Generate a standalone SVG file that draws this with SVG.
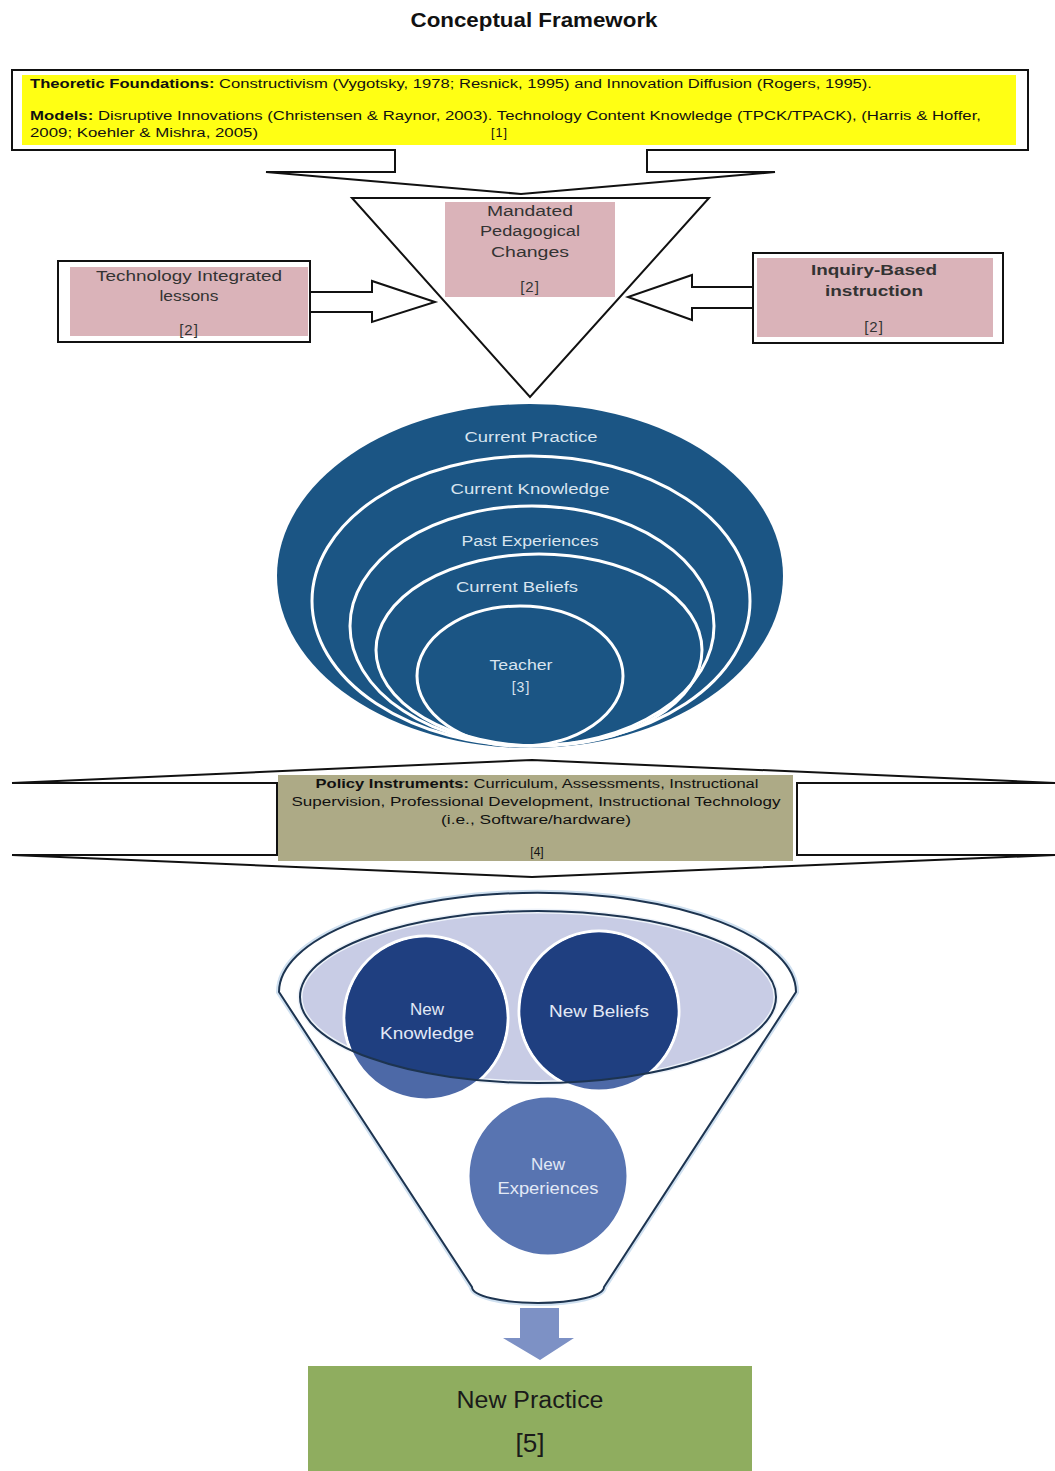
<svg xmlns="http://www.w3.org/2000/svg" width="1055" height="1471" viewBox="0 0 1055 1471">
<defs>
<style>
text{font-family:"Liberation Sans","Open Sans",Arial,sans-serif}
.ln{fill:none;stroke:#111;stroke-width:2;stroke-linejoin:miter}
.pink{fill:#dab3b9}
.ptxt{font-size:14px;fill:#333;text-anchor:middle}
.num{font-size:15px;letter-spacing:1px}
.ring{fill:none;stroke:#fff;stroke-width:3}
.rtxt{font-size:14px;fill:#d8e4ef;text-anchor:middle}
.ctxt{font-size:17px;fill:#e2e9f6;text-anchor:middle}
.ytxt{font-size:12.5px;fill:#111}
.otxt{font-size:12px;fill:#111;text-anchor:middle}
</style>
<clipPath id="outerClip"><ellipse cx="530" cy="576" rx="253" ry="172"/></clipPath>
<clipPath id="innerEll"><ellipse cx="538" cy="997" rx="238" ry="86"/></clipPath>
</defs>
<rect width="1055" height="1471" fill="#fff"/>

<text x="534" y="27" font-size="20" font-weight="bold" text-anchor="middle" fill="#111" textLength="247" lengthAdjust="spacingAndGlyphs">Conceptual Framework</text>

<g id="connectors">
<path class="ln" d="M395,150 V172 H266 L521,194 L775,172 H647 V150"/>
<path class="ln" fill="#fff" d="M310,292 H372 V281 L435,302 L372,322 V312 H310"/>
<path class="ln" d="M753,287 H692 V275 L628,297 L692,320 V308 H753"/>
<path class="ln" stroke-width="2.2" d="M12,783 L532,760 L1055,783"/>
<path class="ln" stroke-width="2.2" d="M12,855 L532,877 L1055,855"/>
<path class="ln" d="M12,783 H277 V855 H12"/>
<path class="ln" d="M1055,783 H797 V855 H1055"/>
<path fill="#7d91c5" d="M520,1308 H559 V1338 H574 L540,1360 L503,1338 H520 Z"/>
</g>

<g id="foundations">
<rect x="12" y="70" width="1016" height="80" fill="#fff" stroke="#111" stroke-width="2"/>
<rect x="22" y="75" width="994" height="70" fill="#ffff14"/>
<line x1="396" y1="150" x2="646" y2="150" stroke="#fff" stroke-width="3"/>
<text class="ytxt" x="30" y="88" textLength="842" lengthAdjust="spacingAndGlyphs"><tspan font-weight="bold">Theoretic Foundations:</tspan> Constructivism (Vygotsky, 1978; Resnick, 1995) and Innovation Diffusion (Rogers, 1995).</text>
<text class="ytxt" x="30" y="120" textLength="951" lengthAdjust="spacingAndGlyphs"><tspan font-weight="bold">Models:</tspan> Disruptive Innovations (Christensen &amp; Raynor, 2003). Technology Content Knowledge (TPCK/TPACK), (Harris &amp; Hoffer,</text>
<text class="ytxt" x="30" y="137" textLength="228" lengthAdjust="spacingAndGlyphs">2009; Koehler &amp; Mishra, 2005)</text>
<text class="ytxt" x="491" y="137" letter-spacing="1">[1]</text>
</g>

<g id="mandated">
<path class="ln" fill="#fff" d="M352,198 H709 L530,397 Z"/>
<rect class="pink" x="445" y="202" width="170" height="95"/>
<text class="ptxt" x="530" y="216" textLength="86" lengthAdjust="spacingAndGlyphs">Mandated</text>
<text class="ptxt" x="530" y="236" textLength="100" lengthAdjust="spacingAndGlyphs">Pedagogical</text>
<text class="ptxt" x="530" y="257" textLength="78" lengthAdjust="spacingAndGlyphs">Changes</text>
<text class="ptxt num" x="530" y="292">[2]</text>
</g>

<g id="tech-lessons">
<rect x="58" y="261" width="252" height="81" fill="#fff" stroke="#111" stroke-width="2"/>
<rect class="pink" x="70" y="267" width="238" height="69"/>
<text class="ptxt" x="189" y="281" textLength="186" lengthAdjust="spacingAndGlyphs">Technology Integrated</text>
<text class="ptxt" x="189" y="301" textLength="59" lengthAdjust="spacingAndGlyphs">lessons</text>
<text class="ptxt num" x="189" y="335">[2]</text>
</g>

<g id="inquiry">
<rect x="753" y="253" width="250" height="90" fill="#fff" stroke="#111" stroke-width="2"/>
<rect class="pink" x="757" y="258" width="236" height="79"/>
<text class="ptxt" x="874" y="275" font-weight="bold" fill="#2a2a2a" textLength="126" lengthAdjust="spacingAndGlyphs">Inquiry-Based</text>
<text class="ptxt" x="874" y="296" font-weight="bold" fill="#2a2a2a" textLength="98" lengthAdjust="spacingAndGlyphs">instruction</text>
<text class="ptxt num" x="874" y="332">[2]</text>
</g>

<g id="teacher-rings">
<ellipse cx="530" cy="576" rx="253" ry="172" fill="#1b5584"/>
<g clip-path="url(#outerClip)">
<ellipse class="ring" cx="531" cy="601" rx="219" ry="145"/>
<ellipse class="ring" cx="532" cy="626" rx="182" ry="120"/>
<ellipse class="ring" cx="539" cy="650" rx="163" ry="96"/>
<ellipse class="ring" cx="520" cy="676" rx="103" ry="70"/>
</g>
<text class="rtxt" x="531" y="442" textLength="133" lengthAdjust="spacingAndGlyphs">Current Practice</text>
<text class="rtxt" x="530" y="494" textLength="159" lengthAdjust="spacingAndGlyphs">Current Knowledge</text>
<text class="rtxt" x="530" y="546" textLength="137" lengthAdjust="spacingAndGlyphs">Past Experiences</text>
<text class="rtxt" x="517" y="592" textLength="122" lengthAdjust="spacingAndGlyphs">Current Beliefs</text>
<text class="rtxt" x="521" y="670" textLength="63" lengthAdjust="spacingAndGlyphs">Teacher</text>
<text class="rtxt num" x="521" y="692">[3]</text>
</g>

<g id="policy">
<rect x="278" y="775" width="515" height="86" fill="#adaa86"/>
<text class="otxt" x="537" y="788" textLength="443" lengthAdjust="spacingAndGlyphs"><tspan font-weight="bold">Policy Instruments:</tspan> Curriculum, Assessments, Instructional</text>
<text class="otxt" x="536" y="806" textLength="489" lengthAdjust="spacingAndGlyphs">Supervision, Professional Development, Instructional Technology</text>
<text class="otxt" x="536" y="824" textLength="190" lengthAdjust="spacingAndGlyphs">(i.e., Software/hardware)</text>
<text class="otxt" x="537" y="856">[4]</text>
</g>

<g id="funnel">
<path d="M279,992 A258 99 0 0 1 796,992 L604,1287 A66 16 0 0 1 472,1287 Z" fill="#fff" stroke="#cfe0f0" stroke-width="6"/>
<path d="M279,992 A258 99 0 0 1 796,992 L604,1287 A66 16 0 0 1 472,1287 Z" fill="#fff" stroke="#1d3450" stroke-width="2"/>
<ellipse cx="538" cy="997" rx="238" ry="86" fill="#c8cce5" stroke="#eef3fa" stroke-width="5"/>
</g>

<g id="new-knowledge">
<circle cx="426" cy="1018" r="82" fill="#4d69a7" stroke="#fff" stroke-width="3"/>
<circle cx="426" cy="1018" r="80.5" fill="#1f3f80" clip-path="url(#innerEll)"/>
<text class="ctxt" x="427" y="1015">New</text>
<text class="ctxt" x="427" y="1039" textLength="94" lengthAdjust="spacingAndGlyphs">Knowledge</text>
</g>

<g id="new-beliefs">
<circle cx="599" cy="1011" r="80" fill="#4d69a7" stroke="#fff" stroke-width="3"/>
<circle cx="599" cy="1011" r="78.5" fill="#1f3f80" clip-path="url(#innerEll)"/>
<text class="ctxt" x="599" y="1017" textLength="100" lengthAdjust="spacingAndGlyphs">New Beliefs</text>
</g>

<ellipse cx="538" cy="997" rx="238" ry="86" fill="none" stroke="#1d3450" stroke-width="2"/>

<g id="new-experiences">
<circle cx="548" cy="1176" r="80" fill="#5874b1" stroke="#fff" stroke-width="3"/>
<text class="ctxt" x="548" y="1170">New</text>
<text class="ctxt" x="548" y="1194" textLength="101" lengthAdjust="spacingAndGlyphs">Experiences</text>
</g>

<g id="new-practice">
<rect x="308" y="1366" width="444" height="105" fill="#8fad5f"/>
<text x="530" y="1408" font-size="23" text-anchor="middle" fill="#1a1a1a" textLength="147" lengthAdjust="spacingAndGlyphs">New Practice</text>
<text x="530" y="1452" font-size="26" text-anchor="middle" fill="#1a1a1a">[5]</text>
</g>
</svg>
